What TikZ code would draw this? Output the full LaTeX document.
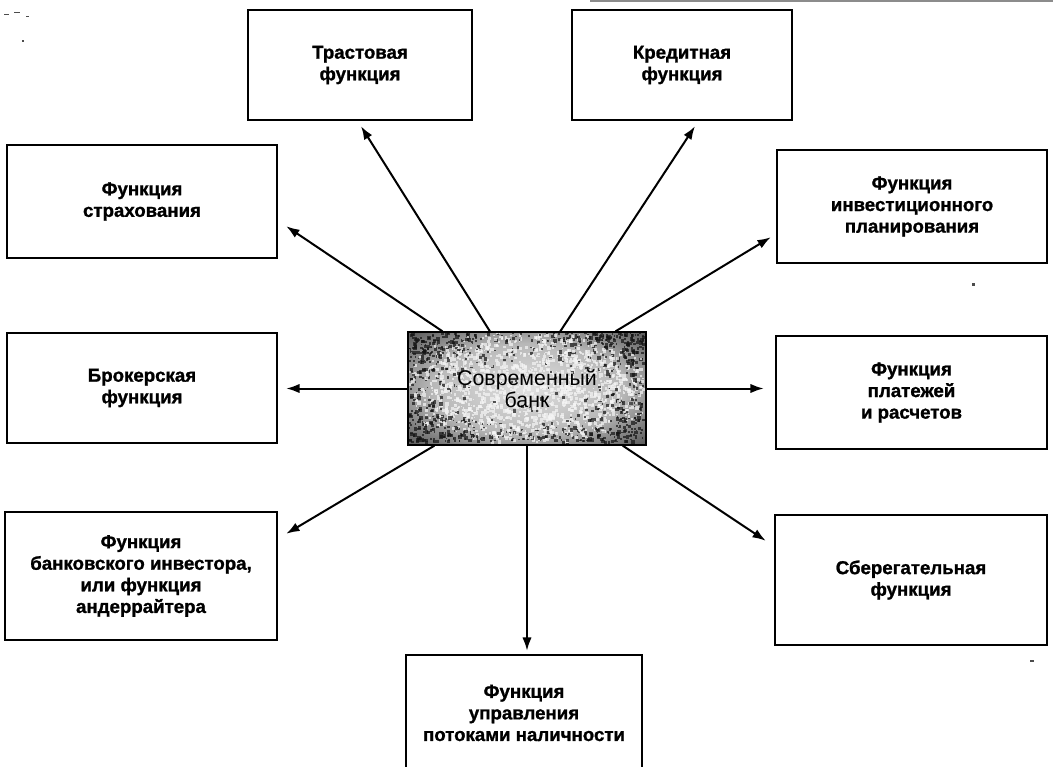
\documentclass[tikz,border=0pt]{standalone}
\usepackage{fontspec}
\setmainfont{Liberation Sans}[BoldFeatures={FakeBold=1.2}]
\usetikzlibrary{calc,arrows.meta}
\begin{document}
\pgfdeclareradialshading{bankshade}{\pgfpoint{0bp}{0bp}}{color(0bp)=(black!12); color(20bp)=(black!28); color(34bp)=(black!62); color(50bp)=(black!88)}
\begin{tikzpicture}[x=0.75pt,y=-0.75pt,
  box/.style={draw=black,line width=1.8pt,rectangle,align=center,
    font=\bfseries\fontsize{14}{16.2}\selectfont,inner sep=0pt},
  arr/.style={line width=1.5pt,-{Latex[length=10pt,width=7pt]}},
  bankbox/.style={draw=black,line width=1pt,rectangle,align=center,
    font=\fontsize{16}{16.5}\selectfont,inner sep=0pt,
    minimum width=178.5pt,minimum height=84.75pt},
  scan/.style={fill=black!70}
  ]
\useasboundingbox (0,0) rectangle (1053,767);
\fill[white] (0,0) rectangle (1053,767);
\draw[black!45,line width=0.9pt] (590,1) -- (1053,1);
\fill[scan] (4,14) rectangle ++(5,1.5);
\fill[scan] (14,12) rectangle ++(6,1.5);
\fill[scan] (26,16) rectangle ++(3,1.5);
\fill[scan] (22,40) rectangle ++(2,2);
\fill[scan] (972,283) rectangle ++(3,3);
\fill[scan] (1030,660) rectangle ++(4,1.5);

% function boxes
\node[box,minimum width=168pt,minimum height=82.5pt] (trust) at (360,65) {Трастовая\\функция};
\node[box,minimum width=165pt,minimum height=82.5pt] (credit) at (682,65) {Кредитная\\функция};
\node[box,minimum width=202.5pt,minimum height=84.75pt] (strah) at (142,201.5) {Функция\\страхования};
\node[box,minimum width=202.5pt,minimum height=82.5pt] (broker) at (142,388) {Брокерская\\функция};
\node[box,minimum width=204pt,minimum height=96pt] (bankinv) at (141,576) {Функция\\банковского инвестора,\\или функция\\андеррайтера};
\node[box,minimum width=202.5pt,minimum height=84.75pt] (invest) at (912,206.5) {Функция\\инвестиционного\\планирования};
\node[box,minimum width=203.25pt,minimum height=84.75pt] (pay) at (911.5,392.5) {Функция\\платежей\\и расчетов};
\node[box,minimum width=204pt,minimum height=97.5pt] (saving) at (911,580) {Сберегательная\\функция};
\node[box,minimum width=177pt,minimum height=87pt] (cash) at (524,713) {Функция\\управления\\потоками наличности};

% central textured box
\shade[shading=bankshade] (408,332) rectangle (646,445);
\pgfmathsetseed{17}
\foreach \i in {1,...,2400}{
  \pgfmathsetmacro\u{rnd}
  \pgfmathsetmacro\v{rnd}
  \pgfmathsetmacro\xx{408+234*\u}
  \pgfmathsetmacro\yy{332+109*\v}
  \pgfmathsetmacro\rr{((\u-0.5)*2)^2+((\v-0.5)*2)^2}
  \pgfmathsetmacro\pd{0.04+0.6*\rr*\rr}
  \pgfmathsetmacro\q{rnd}
  \pgfmathtruncatemacro\gg{(\q<\pd) ? 92 : 4}
  \pgfmathsetmacro\ss{1.2+2.6*rnd}
  \fill[black!\gg,opacity=0.7] (\xx,\yy) rectangle ++(\ss,\ss);
}
\node[bankbox] (c) at (527,388.5) {Современный\\банк};

% connectors
\draw[arr] ($(c.north west)!0.147!(c.north east)$) -- ($(strah.south east)+(8,-33)$);
\draw[arr] ($(c.north west)!0.345!(c.north east)$) -- ($(trust.south)+(1,5)$);
\draw[arr] ($(c.north west)!0.639!(c.north east)$) -- ($(credit.south)+(13,5)$);
\draw[arr] ($(c.north west)!0.87!(c.north east)$) -- ($(invest.south west)+(-5,-27)$);
\draw[arr] (c.west) -- ($(c.west -| broker.east)+(8,0)$);
\draw[arr] (c.east) -- ($(c.east -| pay.west)+(-11,0)$);
\draw[arr] ($(c.south west)!0.113!(c.south east)$) -- ($(bankinv.north east)+(8,23)$);
\draw[arr] (c.south) -- ($(c.south |- cash.north)+(0,-3)$);
\draw[arr] ($(c.south west)!0.9!(c.south east)$) -- ($(saving.north west)+(-8,27)$);
\end{tikzpicture}
\end{document}
